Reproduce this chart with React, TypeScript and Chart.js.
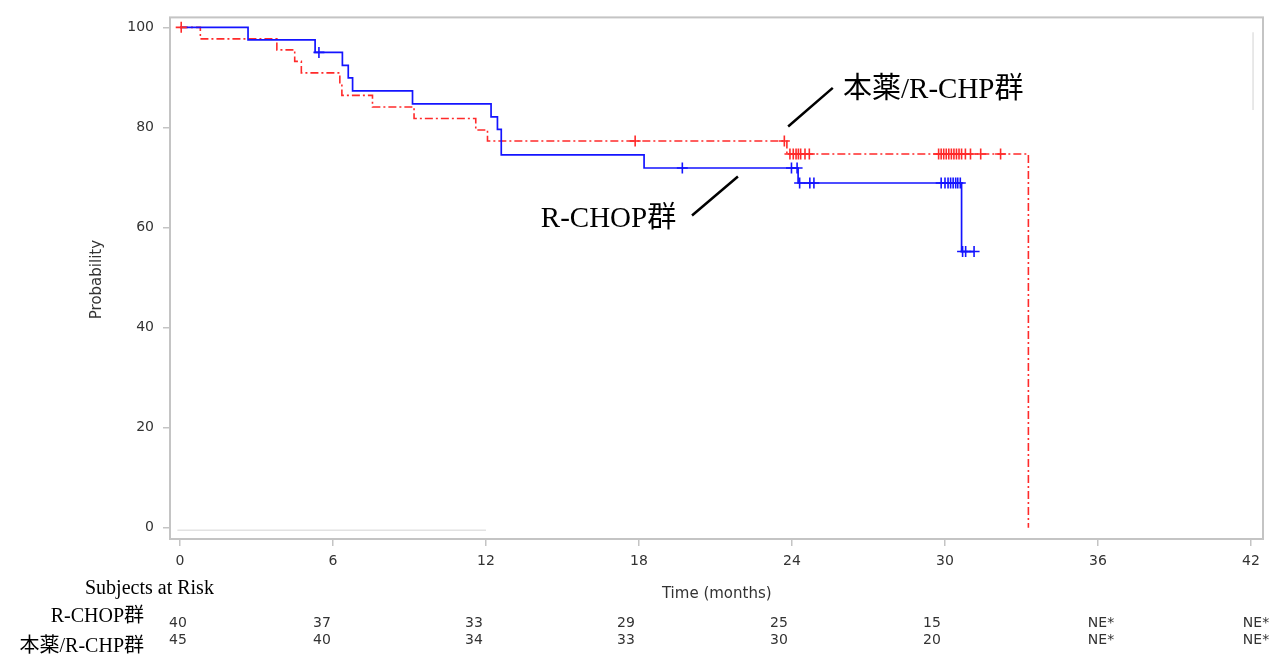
import React, { useEffect, useRef } from "react";
import { Chart, registerables } from "chart.js";

Chart.register(...registerables);

// ---- data ----
const X_TICKS = [0, 6, 12, 18, 24, 30, 36, 42];
const Y_TICKS = [0, 20, 40, 60, 80, 100];

const RCHOP_EVENT_TIMES = [0, 2.67, 5.3, 6.37, 6.6, 6.77, 9.12, 12.2, 12.45, 12.6, 18.2, 24.24, 30.65, 31.14];
const RCHOP_SURVIVAL = [100, 97.5, 95.0, 92.4, 89.9, 87.3, 84.7, 82.1, 79.6, 74.5, 71.9, 68.9, 55.2, 55.2];
const RCHOP_CENSOR_TIMES = [5.45, 19.7, 23.98, 24.2, 24.3, 24.7, 24.86, 29.85, 30.0, 30.12, 30.22, 30.32, 30.42, 30.5, 30.6, 30.69, 30.81, 31.14];

const NEW_EVENT_TIMES = [0, 0.8, 3.8, 4.5, 4.76, 6.27, 6.35, 7.55, 9.18, 11.6, 12.06, 23.8, 33.27];
const NEW_SURVIVAL = [100, 97.7, 95.5, 93.2, 90.9, 88.6, 86.4, 84.1, 81.8, 79.5, 77.3, 74.7, 0];
const NEW_CENSOR_TIMES = [0.05, 17.85, 23.7, 23.92, 24.05, 24.16, 24.25, 24.34, 24.51, 24.68, 29.75, 29.85, 29.95, 30.05, 30.15, 30.25, 30.35, 30.45, 30.55, 30.65, 30.8, 31.0, 31.4, 32.18];

const LABEL_RCHOP = "R-CHOP群";
const LABEL_NEW = "本薬/R-CHP群";
const X_TITLE = "Time (months)";
const Y_TITLE = "Probability";
const RISK_TITLE = "Subjects at Risk";
const RISK_TIMES = [0, 6, 12, 18, 24, 30, 36, 42];
const RISK_RCHOP = ["40", "37", "33", "29", "25", "15", "NE*", "NE*"];
const RISK_NEW = ["45", "40", "34", "33", "30", "20", "NE*", "NE*"];

// ---- layout / style constants ----
const W = 1276;
const H = 657;
const BLUE = "#1414ff";
const RED = "#ff2a2a";
const SERIF = '"Liberation Serif", "Noto Sans CJK JP", serif';
const SANS = '"DejaVu Sans", sans-serif';
const RISK_NUDGE_PX = [-2, -11, -12, -13, -13, -13, 3, 5];

function stepValue(times: number[], surv: number[], t: number): number {
  let v = surv[0];
  for (let i = 0; i < times.length; i++) {
    if (times[i] <= t) v = surv[i];
  }
  return v;
}

const toXY = (times: number[], vals: number[]) => times.map((t, i) => ({ x: t, y: vals[i] }));
const censorXY = (ct: number[], times: number[], surv: number[]) =>
  ct.map((t) => ({ x: t, y: stepValue(times, surv, t) }));

const decorPlugin = {
  id: "decor",
  afterDraw(chart: any) {
    const ctx = chart.ctx as CanvasRenderingContext2D;
    const xs = chart.scales.x;
    const ys = chart.scales.y;
    const ca = chart.chartArea;
    const px = (v: number) => xs.getPixelForValue(v);
    const py = (v: number) => ys.getPixelForValue(v);
    ctx.save();

    // frame
    ctx.strokeStyle = "#c4c4c4";
    ctx.lineWidth = 2;
    ctx.strokeRect(ca.left, ca.top, ca.right - ca.left, ca.bottom - ca.top);

    // faint leftover lines
    ctx.strokeStyle = "#e2e2e2";
    ctx.lineWidth = 1.5;
    ctx.beginPath();
    ctx.moveTo(px(-0.1), py(-0.5));
    ctx.lineTo(px(12), py(-0.5));
    ctx.moveTo(px(42.08), py(99));
    ctx.lineTo(px(42.08), py(83.5));
    ctx.stroke();

    // annotation leader lines
    ctx.strokeStyle = "#000";
    ctx.lineWidth = 2.5;
    ctx.beginPath();
    ctx.moveTo(px(23.85), py(80.2));
    ctx.lineTo(px(25.6), py(87.9));
    ctx.moveTo(px(20.08), py(62.4));
    ctx.lineTo(px(21.88), py(70.2));
    ctx.stroke();

    // annotation labels
    ctx.fillStyle = "#000";
    ctx.font = `29px ${SERIF}`;
    ctx.textAlign = "left";
    ctx.textBaseline = "middle";
    ctx.fillText(LABEL_NEW, px(26.0), py(87.4));
    ctx.fillText(LABEL_RCHOP, px(14.15), py(61.6));

    // axis titles
    ctx.fillStyle = "#333";
    ctx.font = `15px ${SANS}`;
    ctx.textAlign = "center";
    ctx.fillText(X_TITLE, px(21.05), 594);
    ctx.save();
    ctx.translate(97, py(50) + 2);
    ctx.rotate(-Math.PI / 2);
    ctx.fillText(Y_TITLE, 0, 0);
    ctx.restore();

    // risk table
    ctx.fillStyle = "#000";
    ctx.font = `20px ${SERIF}`;
    ctx.textAlign = "left";
    ctx.fillText(RISK_TITLE, 85, 589);
    ctx.textAlign = "right";
    ctx.fillText(LABEL_RCHOP, 144, 617);
    ctx.fillText(LABEL_NEW, 144, 647);

    ctx.fillStyle = "#333";
    ctx.font = `14px ${SANS}`;
    ctx.textAlign = "center";
    RISK_TIMES.forEach((t, i) => {
      const x = px(t) + RISK_NUDGE_PX[i];
      ctx.fillText(RISK_RCHOP[i], x, 623);
      ctx.fillText(RISK_NEW[i], x, 640);
    });
    ctx.restore();
  },
};

export default function App() {
  const ref = useRef<HTMLCanvasElement>(null);
  useEffect(() => {
    const canvas = ref.current!;
    const chart = new Chart(canvas, {
      type: "line",
      data: {
        datasets: [
          {
            type: "scatter",
            label: "rchop-censor",
            data: censorXY(RCHOP_CENSOR_TIMES, RCHOP_EVENT_TIMES, RCHOP_SURVIVAL),
            showLine: false,
            pointStyle: "cross",
            pointRadius: 5.5,
            pointBorderWidth: 1.6,
            pointBorderColor: BLUE,
            pointBackgroundColor: BLUE,
          } as any,
          {
            type: "scatter",
            label: "new-censor",
            data: censorXY(NEW_CENSOR_TIMES, NEW_EVENT_TIMES, NEW_SURVIVAL),
            showLine: false,
            pointStyle: "cross",
            pointRadius: 5.5,
            pointBorderWidth: 1.6,
            pointBorderColor: RED,
            pointBackgroundColor: RED,
          } as any,
          {
            label: LABEL_RCHOP,
            data: toXY(RCHOP_EVENT_TIMES, RCHOP_SURVIVAL),
            borderColor: BLUE,
            borderWidth: 1.7,
            stepped: true,
            pointRadius: 0,
            fill: false,
          },
          {
            label: LABEL_NEW,
            data: toXY(NEW_EVENT_TIMES, NEW_SURVIVAL),
            borderColor: RED,
            borderWidth: 1.6,
            borderDash: [8, 3, 2, 3],
            stepped: true,
            pointRadius: 0,
            fill: false,
          },
        ],
      },
      options: {
        animation: false,
        responsive: false,
        devicePixelRatio: 1,
        layout: { padding: { top: 14, right: 13, left: 0, bottom: 0 } },
        plugins: { legend: { display: false }, tooltip: { enabled: false } },
        scales: {
          x: {
            type: "linear",
            min: -0.39,
            max: 42.47,
            afterFit: (s: any) => {
              s.height = 118;
            },
            afterBuildTicks: (s: any) => {
              s.ticks = X_TICKS.map((v) => ({ value: v }));
            },
            grid: { drawOnChartArea: false, drawTicks: true, tickLength: 7, color: "#c4c4c4", lineWidth: 1.5 },
            border: { display: false },
            ticks: { color: "#333", font: { family: "DejaVu Sans", size: 14 }, padding: 7, maxRotation: 0 },
          },
          y: {
            type: "linear",
            min: -2.24,
            max: 101.99,
            afterFit: (s: any) => {
              s.width = 170;
            },
            afterBuildTicks: (s: any) => {
              s.ticks = Y_TICKS.map((v) => ({ value: v }));
            },
            grid: { drawOnChartArea: false, drawTicks: true, tickLength: 7, color: "#c4c4c4", lineWidth: 1.5 },
            border: { display: false },
            ticks: { color: "#333", font: { family: "DejaVu Sans", size: 14 }, padding: 9 },
          },
        },
      },
      plugins: [decorPlugin],
    });
    return () => chart.destroy();
  }, []);
  return (
    <div style={{ position: "fixed", left: 0, top: 0, width: W, height: H, background: "#fff" }}>
      <canvas ref={ref} width={W} height={H} style={{ display: "block", width: W, height: H }} />
    </div>
  );
}
